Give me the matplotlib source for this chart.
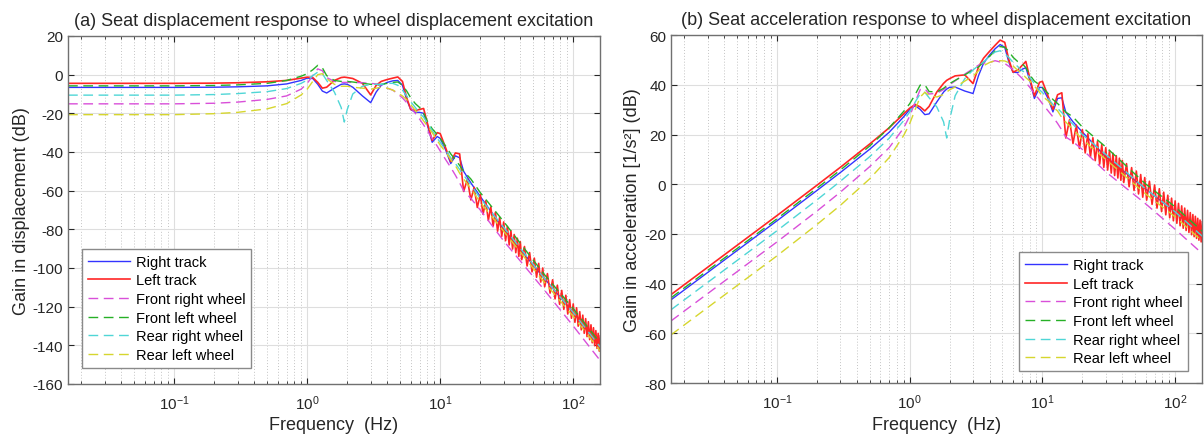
import matplotlib
matplotlib.use('Agg')
import matplotlib.pyplot as plt
from matplotlib.ticker import LogLocator, MultipleLocator, NullFormatter

plt.rcParams['font.family'] = ['Liberation Sans', 'DejaVu Sans']
plt.rcParams['mathtext.fontset'] = 'custom'
plt.rcParams['mathtext.rm'] = 'Liberation Sans'
plt.rcParams['axes.unicode_minus'] = False

# frequency grid (Hz) shared by the smooth curves
freq = [0.0159, 0.1, 0.2, 0.3, 0.5, 0.7, 0.9, 1.0, 1.1, 1.2, 1.3, 1.4, 1.6, 1.8, 1.9,
        2.0, 2.2, 2.6, 3.0, 3.3, 3.6, 4.0, 4.4, 4.8, 5.2, 5.6, 6.0, 6.5, 7.0, 7.5,
        8.0, 8.7, 9.5, 10, 11, 12, 13, 14, 15, 17, 20, 30, 60, 100, 160]

# left track ripples above 15 Hz
band_freq = [15, 16, 17, 18, 19, 20, 21, 22, 23, 24, 25, 26, 27, 28, 29, 30, 31, 32, 33,
             34, 35, 36, 37, 38, 39, 40, 41, 43, 45, 47, 49, 51, 53, 55, 57, 59, 61, 64,
             67, 70, 73, 76, 79, 82, 85, 88, 91, 94, 97, 100, 103, 106, 109, 112, 115,
             118, 121, 124, 127, 130, 133, 136, 139, 142, 145, 148, 151, 154, 157, 160]

# (a) displacement gain, dB
rt_disp = [-6.6, -6.6, -6.5, -6.3, -5.8, -4.8, -3.0, -1.8, -2.0, -5.0, -8.5, -9.5, -7.0, -5.0,
           -4.8, -5.0, -6.5, -11.0, -14.5, -9.0, -5.5, -4.0, -3.2, -3.0, -5.5, -13.0, -18.0,
           -19.5, -19.5, -20.0, -26.0, -35.0, -32.0, -33.0, -39.0, -46.0, -42.0, -43.0,
           -50.0, -56.0, -63.0, -80.0, -105.0, -123.0, -141.0]
lt_disp = [-4.5, -4.5, -4.4, -4.2, -3.7, -3.0, -1.8, -1.3, -1.5, -4.0, -7.0, -6.5, -3.0, -1.5,
           -1.3, -1.5, -2.0, -4.5, -10.5, -5.5, -3.5, -2.5, -1.8, -1.2, -3.5, -12.0, -18.0,
           -18.5, -18.0, -17.5, -25.0, -34.0, -30.0, -30.5, -38.0, -45.0, -40.5, -41.0]
lt_band_disp = [-60.4, -54.1, -64.8, -58.3, -68.7, -62.0, -72.2, -65.3, -75.4, -68.4, -78.3,
                -71.2, -81.0, -73.8, -83.6, -76.2, -85.9, -78.5, -88.1, -80.7, -90.2, -82.7,
                -92.1, -84.6, -94.0, -86.4, -95.7, -88.9, -99.0, -92.0, -102.0, -94.9,
                -104.8, -97.6, -107.3, -100.0, -109.7, -102.9, -113.0, -106.1, -116.0,
                -108.9, -118.8, -111.6, -121.4, -114.1, -123.8, -116.4, -126.0, -118.6,
                -128.1, -120.6, -130.1, -122.6, -132.0, -124.4, -133.8, -126.2, -135.5,
                -127.8, -137.1, -129.4, -138.7, -130.9, -140.2, -132.4, -141.6, -133.8,
                -143.0, -135.1]
fr_disp = [-15.1, -15.1, -14.8, -14.2, -12.8, -11.0, -7.5, -4.5, -0.5, 3.0, 2.0, -1.5, -3.5,
           -4.0, -4.0, -4.0, -4.0, -4.2, -4.5, -4.8, -5.5, -7.0, -8.0, -10.0, -12.0, -14.5,
           -17.0, -20.0, -23.0, -26.0, -29.0, -33.0, -37.0, -39.5, -44.0, -48.0, -52.0,
           -56.0, -60.0, -64.0, -70.0, -86.0, -111.0, -130.0, -148.0]
fl_disp = [-5.8, -5.8, -5.6, -5.3, -4.5, -3.0, -0.8, 0.5, 2.5, 4.8, 3.5, -0.5, -3.0, -3.5,
           -3.5, -3.5, -3.8, -4.5, -5.0, -5.5, -5.0, -4.5, -4.0, -3.8, -5.5, -8.5, -12.0,
           -15.0, -17.0, -20.0, -24.0, -28.0, -31.0, -33.0, -37.0, -41.0, -44.0, -47.0,
           -50.0, -54.0, -61.0, -76.0, -103.0, -121.0, -139.0]
rr_disp = [-10.6, -10.6, -10.3, -9.8, -8.8, -7.2, -4.5, -2.8, -0.5, 1.3, 0.5, -3.0, -9.0,
           -17.0, -24.5, -18.0, -10.0, -6.0, -5.0, -5.0, -5.0, -4.5, -4.5, -5.5, -8.0, -11.0,
           -14.0, -17.0, -20.0, -22.0, -25.0, -29.0, -33.0, -35.0, -39.0, -43.0, -46.0,
           -49.0, -52.0, -57.0, -64.0, -79.0, -105.0, -123.0, -141.0]
rl_disp = [-20.7, -20.7, -20.2, -19.5, -17.7, -15.0, -10.5, -7.5, -3.5, 0.0, 0.5, -2.0, -5.0,
           -6.0, -6.0, -6.0, -6.5, -7.0, -7.5, -7.0, -6.5, -7.0, -8.0, -9.5, -11.0, -13.0,
           -15.5, -18.5, -21.0, -24.0, -26.5, -30.0, -34.0, -36.5, -40.0, -44.0, -47.0,
           -51.0, -54.0, -59.0, -66.0, -81.0, -107.0, -125.0, -143.0]

# (b) acceleration gain, dB
rt_acc = [-46.5, -14.7, -2.5, 4.7, 14.1, 20.9, 27.1, 30.1, 31.6, 30.1, 28.0, 28.3, 33.1, 37.1,
          38.3, 39.0, 39.1, 37.5, 36.5, 43.7, 48.7, 52.0, 54.5, 56.2, 55.1, 48.9, 45.1, 44.9,
          46.2, 46.9, 42.1, 34.5, 39.0, 38.9, 34.6, 29.1, 34.5, 34.8, 29.0, 25.1, 21.0, 11.0,
          -1.9, -11.1, -20.9]
lt_acc = [-44.4, -12.6, -0.4, 6.8, 16.2, 22.7, 28.3, 30.6, 32.1, 31.1, 29.5, 31.3, 37.1, 40.6,
          41.8, 42.5, 43.6, 44.0, 40.5, 47.2, 50.7, 53.5, 55.9, 58.0, 57.1, 49.9, 45.1, 45.9,
          47.7, 49.4, 43.1, 35.5, 41.0, 41.4, 35.6, 30.1, 36.0, 36.8]
lt_band_acc = [18.6, 25.9, 16.4, 23.8, 14.4, 22.0, 12.6, 20.3, 11.0, 18.7, 9.5, 17.3, 8.1,
               16.0, 6.8, 14.7, 5.7, 13.6, 4.5, 12.5, 3.5, 11.5, 2.5, 10.5, 1.6, 9.6, 0.7,
               8.3, -1.0, 6.7, -2.5, 5.3, -3.9, 3.9, -5.2, 2.7, -6.4, 1.2, -8.1, -0.3, -9.6,
               -1.8, -11.0, -3.2, -12.3, -4.4, -13.5, -5.6, -14.7, -6.7, -15.7, -7.7, -16.7,
               -8.7, -17.7, -9.6, -18.6, -10.5, -19.4, -11.4, -20.3, -12.2, -21.1, -12.9,
               -21.8, -13.7, -22.5, -14.4, -23.2, -15.1]
fr_acc = [-55.0, -23.2, -10.8, -3.2, 7.1, 14.7, 22.6, 27.4, 33.1, 38.1, 38.5, 36.3, 36.6, 38.1,
          39.1, 40.0, 41.6, 44.3, 46.5, 47.9, 48.7, 49.0, 49.7, 49.2, 48.6, 47.4, 46.1, 44.4,
          42.7, 40.9, 39.1, 36.5, 34.0, 32.4, 29.6, 27.1, 24.5, 21.8, 19.0, 17.1, 14.0, 5.0,
          -7.9, -18.1, -27.9]
fl_acc = [-45.7, -13.9, -1.6, 5.7, 15.4, 22.7, 29.3, 32.4, 36.1, 39.9, 40.0, 37.3, 37.1, 38.6,
          39.6, 40.5, 41.8, 44.0, 46.0, 47.2, 49.2, 51.5, 53.7, 55.4, 55.1, 53.4, 51.1, 49.4,
          48.7, 46.9, 44.1, 41.5, 40.0, 38.9, 36.6, 34.1, 32.5, 30.8, 29.0, 27.1, 23.0, 15.0,
          0.1, -9.1, -18.9]
rr_acc = [-50.5, -18.7, -6.3, 1.2, 11.1, 18.5, 25.6, 29.1, 33.1, 36.4, 37.0, 34.8, 31.1, 25.1,
          18.6, 26.0, 35.6, 42.5, 46.0, 47.7, 49.2, 51.5, 53.2, 53.7, 52.6, 50.9, 49.1, 47.4,
          45.7, 44.9, 43.1, 40.5, 38.0, 36.9, 34.6, 32.1, 30.5, 28.8, 27.0, 24.1, 20.0, 12.0,
          -1.9, -11.1, -20.9]
rl_acc = [-60.6, -28.8, -16.2, -8.5, 2.2, 10.7, 19.6, 24.4, 30.1, 35.1, 37.0, 35.8, 35.1, 36.1,
          37.1, 38.0, 39.1, 41.5, 43.5, 45.7, 47.7, 49.0, 49.7, 49.7, 49.6, 48.9, 47.6, 45.9,
          44.7, 42.9, 41.6, 39.5, 37.0, 35.4, 33.6, 31.1, 29.5, 26.8, 25.0, 22.1, 18.0, 10.0,
          -3.9, -13.1, -22.9]

labels = ['Right track', 'Left track', 'Front right wheel', 'Front left wheel',
          'Rear right wheel', 'Rear left wheel']
colors = ['#3333ff', '#ff2626', '#d94fd9', '#26b026', '#4fd6d6', '#d6d62e']

fig = plt.figure(figsize=(12.04, 4.35), dpi=100)
ax1 = fig.add_axes([0.0565, 0.115, 0.4419, 0.8])
ax2 = fig.add_axes([0.5573, 0.117, 0.441, 0.8])

lt_freq = freq[:len(lt_disp)] + band_freq
panels = [
    (ax1, [rt_disp, lt_disp + lt_band_disp, fr_disp, fl_disp, rr_disp, rl_disp],
     (-160, 20), 'Gain in displacement (dB)',
     '(a) Seat displacement response to wheel displacement excitation',
     'lower left', (0.026, 0.046)),
    (ax2, [rt_acc, lt_acc + lt_band_acc, fr_acc, fl_acc, rr_acc, rl_acc],
     (-80, 60), 'Gain in acceleration [1/s\u00b2] (dB)',
     '(b) Seat acceleration response to wheel displacement excitation',
     'lower right', (0.974, 0.034)),
]

for ax, data, ylim, ylabel, title, loc, anchor in panels:
    xs = [freq, lt_freq, freq, freq, freq, freq]
    for i, (x, y) in enumerate(zip(xs, data)):
        if i == 0:
            ax.plot(x, y, color=colors[i], lw=1.0, label=labels[i])
        elif i == 1:
            ax.plot(x, y, color=colors[i], lw=1.2, label=labels[i])
        else:
            ax.plot(x, y, color=colors[i], lw=1.0, dashes=(7, 4), label=labels[i])
    ax.set_xscale('log')
    ax.set_xlim(0.0159, 159.2)
    ax.set_ylim(*ylim)
    ax.yaxis.set_major_locator(MultipleLocator(20))
    ax.xaxis.set_major_locator(LogLocator(base=10, numticks=10))
    ax.xaxis.set_minor_locator(LogLocator(base=10, subs=range(2, 10), numticks=20))
    ax.xaxis.set_minor_formatter(NullFormatter())
    ax.grid(True, which='major', color='#dedede', lw=0.8, ls='-')
    ax.grid(True, which='minor', axis='x', color='#c4c4c4', lw=0.7, ls=(0, (1, 2)))
    ax.set_axisbelow(True)
    ax.tick_params(which='both', direction='in', top=True, right=True,
                   colors='#262626', labelsize=11)
    ax.tick_params(axis='x', which='major', pad=7)
    ax.tick_params(which='major', length=4, width=0.8)
    ax.tick_params(which='minor', length=2.5, width=0.6)
    for s in ax.spines.values():
        s.set_color('#707070')
        s.set_linewidth(1.0)
    ax.set_xlabel('Frequency  (Hz)', fontsize=13, color='#262626', labelpad=3)
    ax.set_ylabel(ylabel, fontsize=13, color='#262626', labelpad=2)
    ax.set_title(title, fontsize=13, color='#262626', pad=8)
    leg = ax.legend(loc=loc, bbox_to_anchor=anchor, borderaxespad=0, fontsize=10.5,
                    fancybox=False, framealpha=1, edgecolor='#8a8a8a',
                    handlelength=2.9, handletextpad=0.4, labelspacing=0.32,
                    borderpad=0.4)
    leg.get_frame().set_linewidth(1.0)

fig.savefig('out.png', dpi=100)
